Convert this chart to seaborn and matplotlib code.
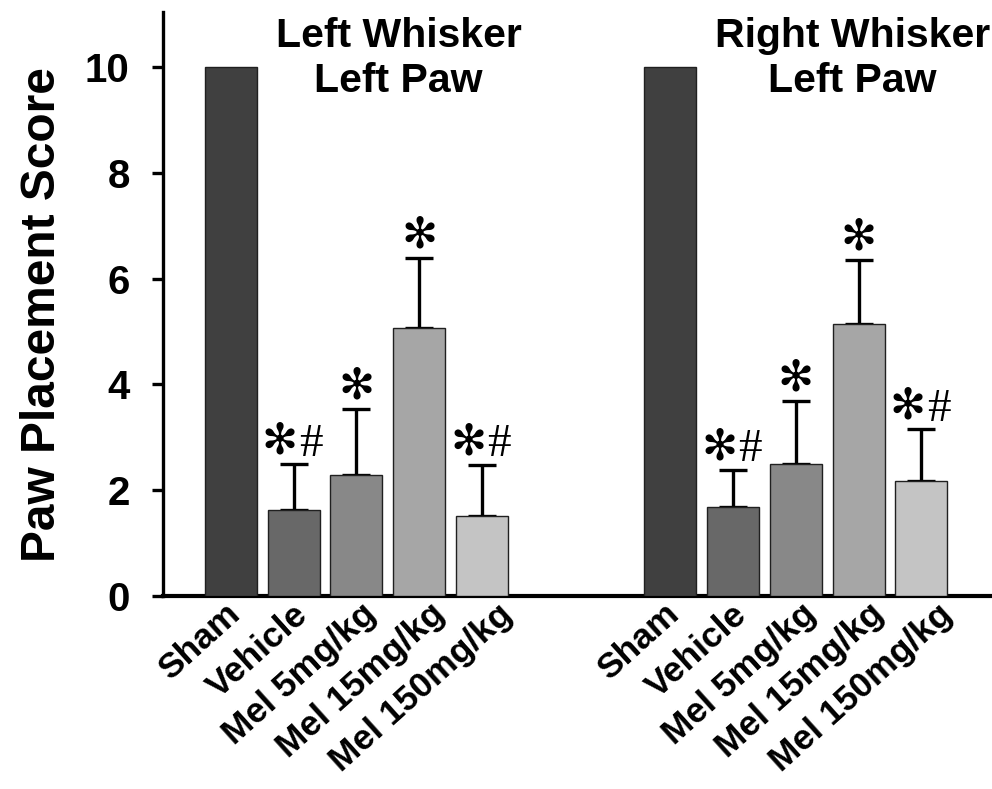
import numpy as np
import pandas as pd
import matplotlib
matplotlib.use("Agg")
import matplotlib.pyplot as plt
import matplotlib.transforms as mtransforms
import seaborn as sns

# ── Data ──────────────────────────────────────────────────────────────────────

treatments = ["Sham", "Vehicle", "Mel 5mg/kg", "Mel 15mg/kg", "Mel 150mg/kg"]
panels = ["Left Whisker\nLeft Paw", "Right Whisker\nLeft Paw"]

left_means = [10.0, 1.63, 2.28, 5.06, 1.51]
left_sem = [0.0, 0.86, 1.25, 1.33, 0.97]
right_means = [10.0, 1.68, 2.49, 5.15, 2.18]
right_sem = [0.0, 0.70, 1.20, 1.20, 0.97]

left_marks = ["", "*#", "*", "*", "*#"]
right_marks = ["", "*#", "*", "*", "*#"]

bar_colors = ["#404040", "#686868", "#888888", "#a6a6a6", "#c4c4c4"]

# slot positions on the x axis: two groups of five with a gap in between
left_slots = [0, 1, 2, 3, 4]
right_slots = [7, 8, 9, 10, 11]

df = pd.DataFrame({
    "slot": left_slots + right_slots,
    "score": left_means + right_means,
    "sem": left_sem + right_sem,
    "treatment": treatments + treatments,
    "mark": left_marks + right_marks,
})

# ── Plot ──────────────────────────────────────────────────────────────────────

sns.set_theme(style="ticks")
plt.rcParams["font.family"] = ["Liberation Sans", "DejaVu Sans"]
plt.rcParams["text.color"] = "black"
plt.rcParams["axes.labelcolor"] = "black"
plt.rcParams["xtick.color"] = "black"
plt.rcParams["ytick.color"] = "black"

fig = plt.figure(figsize=(9.92, 7.89), dpi=100)
ax = fig.add_axes([0.1643, 0.2446, 0.836, 0.7404])

sns.barplot(
    data=df, x="slot", y="score", hue="treatment",
    hue_order=treatments, palette=bar_colors,
    native_scale=True, dodge=False, width=0.83,
    edgecolor="#202020", linewidth=1.0, errorbar=None,
    legend=False, ax=ax, zorder=3,
)

# upper-only error bars (Sham has none)
err = df[df["sem"] > 0]
ax.errorbar(
    err["slot"], err["score"],
    yerr=[np.zeros(len(err)), err["sem"]],
    fmt="none", ecolor="black", elinewidth=2.4,
    capsize=10, capthick=2.4, zorder=2,
)

# significance marks
star = "\u273b"
for _, row in df.iterrows():
    if not row["mark"]:
        continue
    top = row["score"] + row["sem"]
    if row["mark"] == "*":
        ax.annotate(star, (row["slot"], top), xytext=(0, 1),
                    textcoords="offset points", ha="center", va="bottom",
                    fontsize=31, family="DejaVu Sans", zorder=4)
    else:
        ax.annotate(star, (row["slot"], top), xytext=(3, 1),
                    textcoords="offset points", ha="right", va="bottom",
                    fontsize=31, family="DejaVu Sans", zorder=4)
        ax.annotate("#", (row["slot"], top), xytext=(4, -1),
                    textcoords="offset points", ha="left", va="bottom",
                    fontsize=34, family="Liberation Serif", zorder=4)

# panel titles
ax.text(2.67, 10.95, panels[0], ha="center", va="top",
        fontsize=29.5, fontweight="bold", linespacing=1.25)
ax.text(9.9, 10.95, panels[1], ha="center", va="top",
        fontsize=29.5, fontweight="bold", linespacing=1.25)

ax.set_xlim(-1.08, 12.13)
ax.set_ylim(0, 11.04)
ax.set_yticks([0, 2, 4, 6, 8, 10])
ax.set_yticklabels(["0", "2", "4", "6", "8", "10"], fontsize=29, fontweight="bold")
ax.tick_params(axis="y", direction="out", length=8, width=2.4, pad=16)

ax.set_xticks(df["slot"])
ax.set_xticklabels(df["treatment"], rotation=42, ha="right",
                   rotation_mode="anchor", fontsize=25.5, fontweight="bold")
ax.tick_params(axis="x", length=0, pad=2)
# the slanted labels fan out slightly wider than the bars
for i, lab in enumerate(ax.get_xticklabels()):
    dx = (-5 + 4.0 * (i % 5)) / 72
    shift = mtransforms.ScaledTranslation(dx, 1 / 72, fig.dpi_scale_trans)
    lab.set_transform(lab.get_transform() + shift)

ax.set_xlabel("")
ax.set_ylabel("Paw Placement Score", fontsize=34.5, fontweight="bold")
ax.yaxis.set_label_coords(-0.118, 0.481)

for side in ["top", "right"]:
    ax.spines[side].set_visible(False)
ax.spines["left"].set_linewidth(2.4)
ax.spines["bottom"].set_linewidth(3.0)
ax.spines["left"].set_color("black")
ax.spines["bottom"].set_color("black")

fig.savefig("out.png", dpi=100)
